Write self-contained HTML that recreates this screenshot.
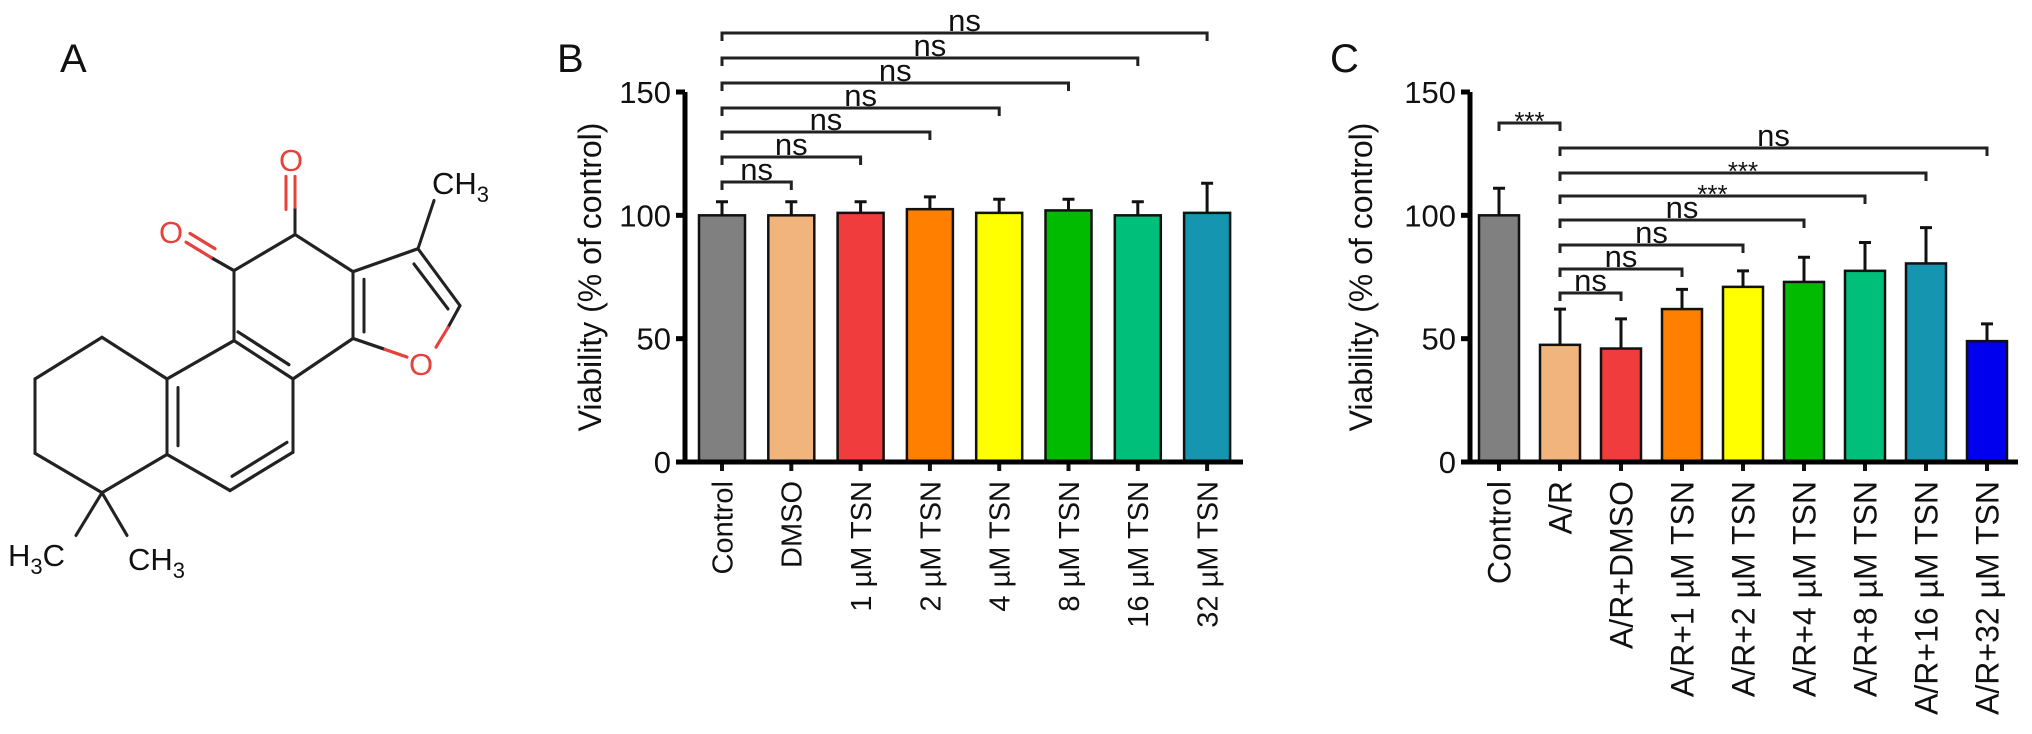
<!DOCTYPE html>
<html><head><meta charset="utf-8"><style>
html,body{margin:0;padding:0;background:#fff}
svg{display:block}
text{font-family:"Liberation Sans",Arial,sans-serif;fill:#111}
</style></head><body>
<svg id="fig" width="2032" height="734" viewBox="0 0 2032 734" xmlns="http://www.w3.org/2000/svg">
<g id="molecule" stroke-width="3" stroke-linecap="round" fill="none">
  <text x="60" y="72" font-size="40" stroke="none">A</text>
  <g transform="matrix(1,0,0,1.094,0,-0.7)">
  <g stroke="#222">
    <line x1="234" y1="248" x2="295" y2="215"/>
    <line x1="295" y1="215" x2="353" y2="249"/>
    <line x1="353" y1="249" x2="353" y2="310"/>
    <line x1="364" y1="256" x2="364" y2="304"/>
    <line x1="353" y1="310" x2="293" y2="347"/>
    <line x1="293" y1="347" x2="234" y2="312"/>
    <line x1="289" y1="334" x2="238" y2="304"/>
    <line x1="234" y1="312" x2="234" y2="248"/>
    <line x1="353" y1="249" x2="418" y2="228"/>
    <line x1="418" y1="228" x2="460" y2="280"/>
    <line x1="414" y1="242" x2="448" y2="283"/>
    <line x1="418" y1="228" x2="434" y2="184"/>
    <line x1="234" y1="312" x2="167" y2="347"/>
    <line x1="167" y1="347" x2="102" y2="309"/>
    <line x1="102" y1="309" x2="35" y2="347"/>
    <line x1="35" y1="347" x2="35" y2="415"/>
    <line x1="35" y1="415" x2="102" y2="451"/>
    <line x1="102" y1="451" x2="167" y2="416"/>
    <line x1="167" y1="416" x2="167" y2="347"/>
    <line x1="178" y1="408" x2="178" y2="355"/>
    <line x1="167" y1="416" x2="230" y2="449"/>
    <line x1="230" y1="449" x2="293" y2="414"/>
    <line x1="232" y1="436" x2="287" y2="405"/>
    <line x1="293" y1="414" x2="293" y2="347"/>
    <line x1="102" y1="451" x2="76" y2="490"/>
    <line x1="102" y1="451" x2="127" y2="490"/>
    <line x1="295" y1="215" x2="295" y2="190"/>
    <line x1="234" y1="248" x2="211" y2="236"/>
    <line x1="353" y1="310" x2="385" y2="320"/>
    <line x1="460" y1="280" x2="448" y2="300"/>
  </g>
  <g stroke="#e8403a">
    <line x1="295" y1="190" x2="295" y2="162"/>
    <line x1="286" y1="192" x2="286" y2="162"/>
    <line x1="211" y1="236" x2="186" y2="222"/>
    <line x1="215" y1="228" x2="190" y2="214"/>
    <line x1="385" y1="320" x2="407" y2="327"/>
    <line x1="448" y1="300" x2="436" y2="318"/>
  </g>
  </g>
  <g stroke="none" font-size="31">
    <text x="291" y="171" text-anchor="middle" style="fill:#e8403a">O</text>
    <text x="171" y="243" text-anchor="middle" style="fill:#e8403a">O</text>
    <text x="421" y="375" text-anchor="middle" style="fill:#e8403a">O</text>
    <text x="432" y="194">CH<tspan font-size="22" dy="8">3</tspan></text>
    <text x="8" y="566">H<tspan font-size="22" dy="8">3</tspan><tspan dy="-8">C</tspan></text>
    <text x="128" y="570">CH<tspan font-size="22" dy="8">3</tspan></text>
  </g>
</g>
<g id="panelB"></g>
<g id="panelC"></g>
</svg>
<script>
// Panel B data
const bCategories = ["Control","DMSO","1 \u00b5M TSN","2 \u00b5M TSN","4 \u00b5M TSN","8 \u00b5M TSN","16 \u00b5M TSN","32 \u00b5M TSN"];
const bValues = [100,100,101,102.5,101,102,100,101];
const bErrors = [105.5,105.5,105.5,107.5,106.5,106.5,105.5,113];
const bColors = ["#808080","#f0b47c","#f03c3c","#ff7f00","#ffff00","#00bb00","#00bf7a","#1595b0"];
const bBrackets = [[0,1,"ns"],[0,2,"ns"],[0,3,"ns"],[0,4,"ns"],[0,5,"ns"],[0,6,"ns"],[0,7,"ns"]];
// Panel C data
const cCategories = ["Control","A/R","A/R+DMSO","A/R+1 \u00b5M TSN","A/R+2 \u00b5M TSN","A/R+4 \u00b5M TSN","A/R+8 \u00b5M TSN","A/R+16 \u00b5M TSN","A/R+32 \u00b5M TSN"];
const cValues = [100,47.5,46,62,71,73,77.5,80.5,49];
const cErrors = [111,62,58,70,77.5,83,89,95,56];
const cColors = ["#808080","#f0b47c","#f03c3c","#ff7f00","#ffff00","#00bb00","#00bf7a","#1595b0","#0000ee"];
const cBrackets = [[0,1,"***"],[1,8,"ns"],[1,7,"***"],[1,6,"***"],[1,5,"ns"],[1,4,"ns"],[1,3,"ns"],[1,2,"ns"]];
const yTicks = [0,50,100,150];

const NS = "http://www.w3.org/2000/svg";
function mk(parent, tag, attrs, txt){
  const e = document.createElementNS(NS, tag);
  for (const k in attrs) e.setAttribute(k, attrs[k]);
  if (txt !== undefined) e.textContent = txt;
  parent.appendChild(e);
  return e;
}

function drawPanel(g, cfg, cats, vals, errs, cols, brackets){
  const y = v => cfg.y0 - v * (cfg.y0 - cfg.y150) / 150;
  const x = i => cfg.x0 + i * cfg.step;
  const lbl = mk(g, "text", {x: cfg.letterX, y: 72, "font-size": 40}, cfg.letter);
  
  
  cats.forEach((c, i) => {
    const cx = x(i), top = y(vals[i]);
    const eb = mk(g, "path", {d: `M${cx} ${top}V${y(errs[i])}M${cx-6} ${y(errs[i])}H${cx+6}`, stroke: "#111", "stroke-width": 3, fill: "none"});
    
    
    const r = mk(g, "rect", {x: cx - cfg.bw/2, y: top, width: cfg.bw, height: cfg.y0 - top, fill: cols[i], stroke: "#111", "stroke-width": 2.5});
    
    
    const tk = mk(g, "line", {x1: cx, y1: cfg.y0, x2: cx, y2: cfg.y0 + 9, stroke: "#111", "stroke-width": 4});
    
    
    const t = mk(g, "text", {transform: `translate(${cx + cfg.lblFs*0.36},${cfg.y0+19}) rotate(-90)`, "text-anchor": "end", "font-size": cfg.lblFs}, c);
    
    
  });
  const ax = mk(g, "path", {d: `M${cfg.ax} ${y(150)}V${cfg.y0}H${cfg.axEnd}`, stroke: "#000", "stroke-width": 5, fill: "none"});
  
  
  yTicks.forEach(v => {
    const tk = mk(g, "line", {x1: cfg.ax - 9, y1: y(v), x2: cfg.ax, y2: y(v), stroke: "#000", "stroke-width": 5});
    
    
    const t = mk(g, "text", {x: cfg.ax - 14, y: y(v) + 11, "text-anchor": "end", "font-size": 31}, String(v));
    
    
  });
  const yt = mk(g, "text", {transform: `translate(${cfg.titleX},${cfg.titleY}) rotate(-90)`, "text-anchor": "middle", "font-size": 32}, "Viability (% of control)");
  
  
  brackets.forEach((b, k) => {
    const ly = cfg.brY[k], x1 = x(b[0]), x2 = x(b[1]);
    const p = mk(g, "path", {d: `M${x1} ${ly+8}V${ly}H${x2}V${ly+8}`, stroke: "#222", "stroke-width": 3, fill: "none"});
    
    
    const star = b[2] === "***";
    const t = mk(g, "text", {x: (x1 + x2) / 2, y: star ? ly + 7 : ly - 2, "text-anchor": "middle", "font-size": star ? 26 : 31}, b[2]);
    
    
  });
}

drawPanel(document.getElementById("panelB"),
  {letter: "B", letterX: 557, x0: 722, step: 69.3, bw: 46, y0: 462, y150: 92, ax: 685, axEnd: 1243, titleX: 601, titleY: 277, lblFs: 29,
   brY: [182, 157, 132, 108, 83, 58, 33]},
  bCategories, bValues, bErrors, bColors, bBrackets);
drawPanel(document.getElementById("panelC"),
  {letter: "C", letterX: 1330, x0: 1499, step: 61, bw: 40, y0: 462, y150: 92, ax: 1470, axEnd: 2018, titleX: 1372, titleY: 277, lblFs: 32,
   brY: [123, 148, 173, 196, 220, 245, 269, 293]},
  cCategories, cValues, cErrors, cColors, cBrackets);
</script>
</body></html>
